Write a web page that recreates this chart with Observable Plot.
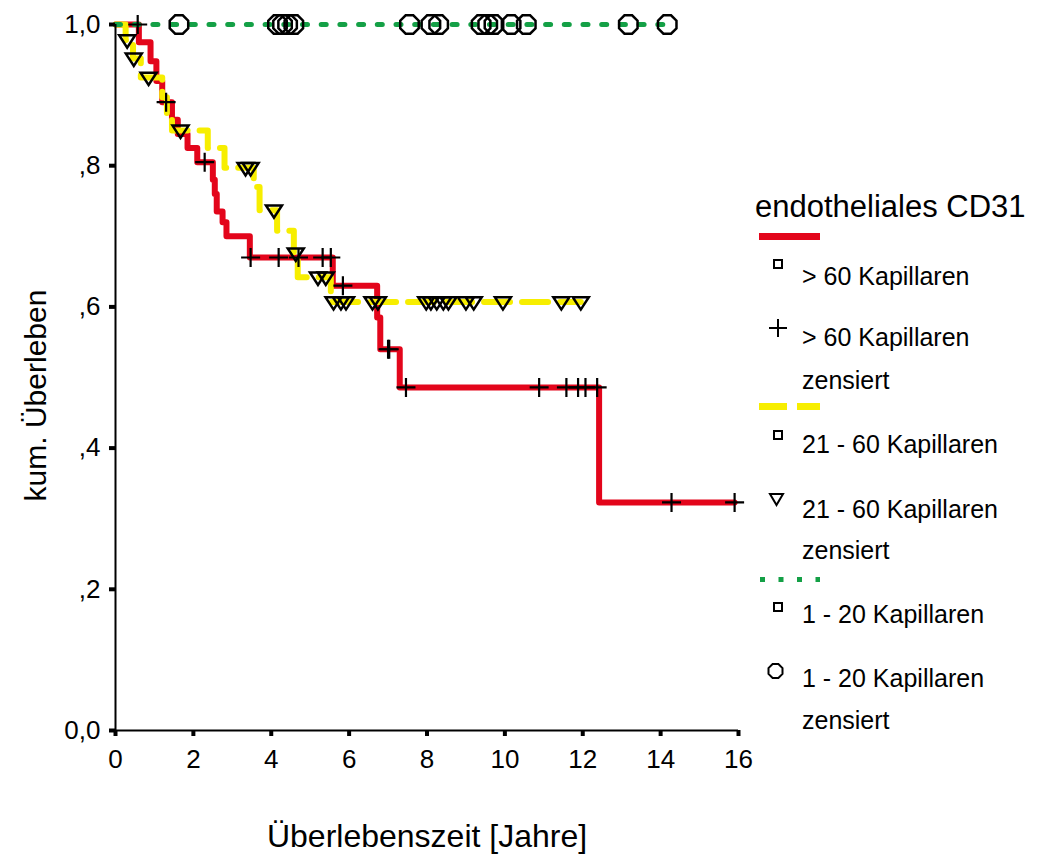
<!DOCTYPE html>
<html>
<head>
<meta charset="utf-8">
<script src="https://cdn.jsdelivr.net/npm/d3@7"></script>
<script src="https://cdn.jsdelivr.net/npm/@observablehq/plot@0.6"></script>
<style>
  body { margin: 0; background: #fff; }
  #wrap { position: relative; width: 1040px; height: 859px; font-family: "Liberation Sans", Arial, sans-serif; }
  #legend { position: absolute; left: 740px; top: 180px; }
  #legend text { font-family: "Liberation Sans", Arial, sans-serif; fill: #000; }
</style>
</head>
<body>
<div id="wrap"></div>
<script>
// ---------- data ----------
const xTicks = [0, 2, 4, 6, 8, 10, 12, 14, 16];
const yTicks = [0, 0.2, 0.4, 0.6, 0.8, 1.0];
const yTickLabels = ["0,0", ",2", ",4", ",6", ",8", "1,0"];
const xTitle = "Überlebenszeit [Jahre]";
const yTitle = "kum. Überleben";
const legendTitle = "endotheliales CD31";

// > 60 Kapillaren (red)
const redTimes    = [0, 0.6, 0.9, 1.05, 1.2, 1.45, 1.6, 1.85, 2.1, 2.5, 2.55, 2.6, 2.75, 2.85, 3.45, 5.58, 6.72, 6.8, 7.3, 12.42, 15.9];
const redSurv     = [1, 0.975, 0.948, 0.92, 0.89, 0.865, 0.845, 0.825, 0.805, 0.78, 0.76, 0.735, 0.72, 0.70, 0.67, 0.63, 0.585, 0.54, 0.486, 0.323, 0.323];
const redCensored = [0.57, 1.3, 2.29, 3.47, 4.19, 4.7, 5.32, 5.53, 5.84, 7.0, 7.03, 7.46, 10.88, 11.58, 11.88, 12.07, 12.37, 14.28, 15.9];

// 21 - 60 Kapillaren (yellow)
const yellowTimes    = [0, 0.26, 0.45, 0.65, 1.2, 1.32, 1.45, 2.37, 2.8, 3.55, 3.7, 4.15, 4.58, 4.68, 5.53, 11.95];
const yellowSurv     = [1, 0.978, 0.952, 0.925, 0.897, 0.872, 0.85, 0.825, 0.797, 0.77, 0.737, 0.708, 0.676, 0.642, 0.607, 0.607];
const yellowCensored = [0.3, 0.47, 0.85, 1.67, 3.34, 3.47, 4.07, 4.63, 5.2, 5.4, 5.6, 5.79, 5.92, 6.6, 6.74, 7.98, 8.1, 8.25, 8.42, 8.55, 9.0, 9.2, 9.95, 11.45, 11.95];

// 1 - 20 Kapillaren (green)
const greenTimes    = [0, 14.17];
const greenSurv     = [1, 1];
const greenCensored = [1.63, 4.16, 4.29, 4.42, 4.58, 7.55, 8.1, 8.3, 9.39, 9.56, 9.72, 10.16, 10.55, 13.17, 14.17];

const colRed = "#e3051b", colYellow = "#f7ee00", colGreen = "#14a046";

// ---------- helpers ----------
const rows = (T, S) => T.map((t, i) => ({t, s: S[i]}));
function survAt(T, S, t) { // KM value at time t (step-after)
  const i = d3.bisectRight(T, t) - 1;
  return S[Math.max(0, i)];
}
const cens = (C, T, S) => C.map(t => ({t, s: survAt(T, S, t)}));

const rOf = size => Math.sqrt(size / Math.PI);
const plusSym = {draw(ctx, size) { const r = rOf(size); ctx.moveTo(-r, 0); ctx.lineTo(r, 0); ctx.moveTo(0, -r); ctx.lineTo(0, r); }};
const triDown = {draw(ctx, size) { const r = rOf(size); ctx.moveTo(-r, -r * 0.6); ctx.lineTo(r, -r * 0.6); ctx.lineTo(0, r * 0.95); ctx.closePath(); }};
const octagon = {draw(ctx, size) { const r = rOf(size); for (let k = 0; k < 8; k++) { const a = Math.PI / 8 + k * Math.PI / 4; const x = r * Math.cos(a), y = r * Math.sin(a); if (k) ctx.lineTo(x, y); else ctx.moveTo(x, y); } ctx.closePath(); }};

const chart = Plot.plot({
  width: 1040,
  height: 859,
  marginLeft: 115,
  marginRight: 302,
  marginTop: 24,
  marginBottom: 129,
  style: {fontFamily: "Liberation Sans, Arial, sans-serif", color: "#000", background: "#fff"},
  x: {domain: [0, 16]},
  y: {domain: [0, 1]},
  marks: [
    Plot.line(rows(redTimes, redSurv), {x: "t", y: "s", curve: "step-after", stroke: colRed, strokeWidth: 6}),
    Plot.line(rows(yellowTimes, yellowSurv), {x: "t", y: "s", curve: "step-after", stroke: colYellow, strokeWidth: 6, strokeDasharray: "26,12"}),
    Plot.line(rows(greenTimes, greenSurv), {x: "t", y: "s", curve: "step-after", stroke: colGreen, strokeWidth: 5, strokeDasharray: "5,13.7"}),
    Plot.ruleX([0], {stroke: "#000", strokeWidth: 2}),
    Plot.ruleY([0], {stroke: "#000", strokeWidth: 2}),
    Plot.axisX({ticks: xTicks, tickFormat: d => String(d), tickSize: 6, tickPadding: 13, strokeWidth: 4, fontSize: 26, label: null}),
    Plot.axisY({ticks: yTicks, tickFormat: d => yTickLabels[yTicks.indexOf(d)], tickSize: 6, tickPadding: 9, strokeWidth: 4, fontSize: 26, label: null}),
    Plot.dot(cens(redCensored, redTimes, redSurv), {x: "t", y: "s", symbol: plusSym, r: 9.5, stroke: "#000", strokeWidth: 2.2, fill: "none"}),
    Plot.dot(cens(yellowCensored, yellowTimes, yellowSurv), {x: "t", y: "s", symbol: triDown, r: 8, stroke: "#000", strokeWidth: 2.5, fill: "none"}),
    Plot.dot(cens(greenCensored, greenTimes, greenSurv), {x: "t", y: "s", symbol: octagon, r: 10, stroke: "#000", strokeWidth: 2.5, fill: "none"}),
    Plot.text([xTitle], {frameAnchor: "bottom", dy: 116, fontSize: 32}),
    Plot.text([yTitle], {frameAnchor: "left", textAnchor: "middle", dx: -79, dy: 18, rotate: -90, fontSize: 30})
  ]
});
document.getElementById("wrap").appendChild(chart);

// ---------- legend ----------
const lg = `
<svg id="legend" width="300" height="570" xmlns="http://www.w3.org/2000/svg">
  <text x="15" y="37" font-size="31">${legendTitle}</text>
  <rect x="19" y="53" width="61" height="7" fill="${colRed}"/>
  <rect x="34" y="80" width="8" height="8" fill="none" stroke="#000" stroke-width="2"/>
  <text x="62" y="105" font-size="25">&gt; 60 Kapillaren</text>
  <path d="M29,148H47M38,139V157" stroke="#000" stroke-width="2" fill="none"/>
  <text x="62" y="166" font-size="25">&gt; 60 Kapillaren</text>
  <text x="62" y="209" font-size="25">zensiert</text>
  <line x1="19" x2="80" y1="226.5" y2="226.5" stroke="${colYellow}" stroke-width="7" stroke-dasharray="28,10"/>
  <rect x="34" y="251" width="8" height="8" fill="none" stroke="#000" stroke-width="2"/>
  <text x="62" y="273" font-size="25">21 - 60 Kapillaren</text>
  <path d="M30,314H43L36.5,325Z" stroke="#000" stroke-width="2" fill="none"/>
  <text x="62" y="338" font-size="25">21 - 60 Kapillaren</text>
  <text x="62" y="379" font-size="25">zensiert</text>
  <line x1="20" x2="80" y1="399.5" y2="399.5" stroke="${colGreen}" stroke-width="5" stroke-dasharray="5,13.5"/>
  <rect x="34" y="423" width="8" height="8" fill="none" stroke="#000" stroke-width="2"/>
  <text x="62" y="443" font-size="25">1 - 20 Kapillaren</text>
  <path d="M32.6,484L38.4,484L42.5,488.1L42.5,493.9L38.4,498L32.6,498L28.5,493.9L28.5,488.1Z" stroke="#000" stroke-width="2" fill="none"/>
  <text x="62" y="507" font-size="25">1 - 20 Kapillaren</text>
  <text x="62" y="549" font-size="25">zensiert</text>
</svg>`;
document.getElementById("wrap").insertAdjacentHTML("beforeend", lg);
</script>
</body>
</html>
